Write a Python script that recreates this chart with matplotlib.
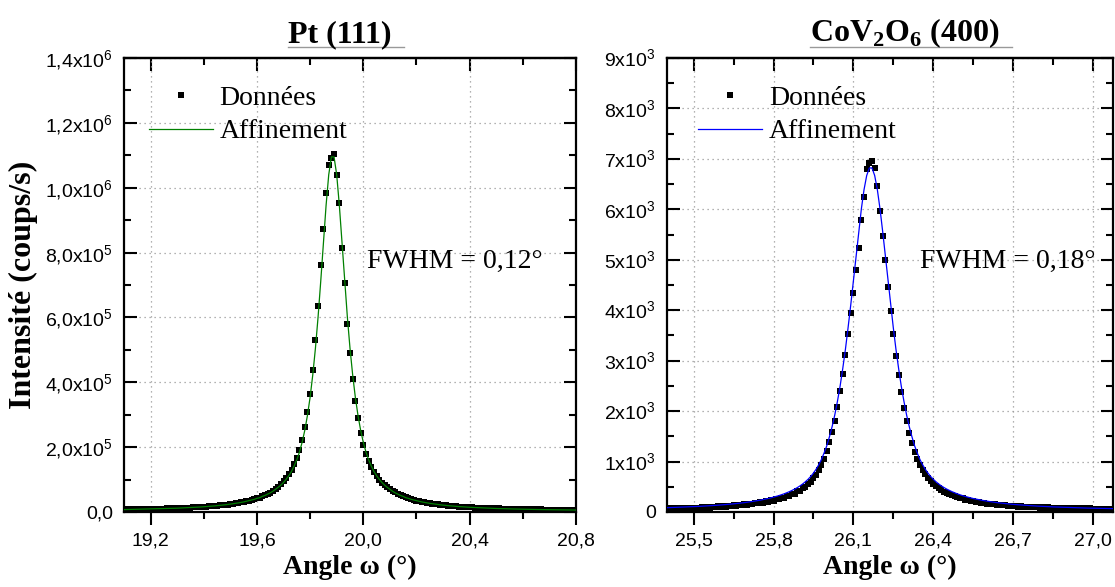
import numpy as np
import matplotlib.pyplot as plt
from matplotlib.ticker import MultipleLocator, FuncFormatter
from matplotlib.lines import Line2D

plt.rcParams['font.family'] = 'Liberation Sans'
plt.rcParams['mathtext.fontset'] = 'custom'
plt.rcParams['mathtext.rm'] = 'Liberation Serif'
plt.rcParams['mathtext.bf'] = 'Liberation Serif:bold'
plt.rcParams['mathtext.sf'] = 'Liberation Sans'

# --- Pt (111) omega scan, 19.10 -> 20.80 deg, step 0.01 (intensities in 1e3 counts/s) ---
pt_angle_start, pt_angle_stop = 19.10, 20.80
pt_counts_k = [
    7.9, 7.2, 8.0, 7.6, 8.3, 8.1, 8.7, 8.2, 9.0, 8.6,
    9.4, 9.0, 9.9, 9.5, 10.3, 10.1, 10.9, 10.6, 11.5, 11.2,
    12.0, 12.3, 12.9, 12.6, 13.6, 13.4, 14.6, 14.2, 15.4, 15.3,
    16.6, 16.4, 17.9, 17.7, 19.3, 19.2, 21.0, 20.9, 22.8, 22.9,
    24.9, 25.0, 27.3, 27.6, 30.3, 30.4, 33.6, 34.1, 37.9, 38.6,
    42.9, 44.1, 49.2, 51.3, 56.8, 59.6, 65.7, 71.8, 78.5, 85.9,
    94.2, 104, 116, 129, 147, 167, 192, 223, 262, 309,
    365, 438, 530, 635, 762, 872, 984, 1069, 1092,
    1104, 1039, 952, 814, 706, 581, 489, 410, 342, 290,
    244, 208, 180, 157, 139, 123, 110, 100, 90, 83,
    76, 70.5, 65.0, 60.2, 55.6, 51.9, 48.3, 45.1, 42.0, 39.6,
    37.0, 35.3, 33.2, 31.4, 29.8, 28.1, 27.0, 25.5, 24.6, 23.2,
    22.4, 21.0, 20.6, 19.4, 19.0, 17.9, 17.6, 16.5, 16.3, 15.4,
    15.2, 14.3, 14.3, 13.4, 13.4, 12.6, 12.7, 11.9, 12.0, 11.2,
    11.3, 10.6, 10.8, 10.1, 10.2, 9.6, 9.8, 9.1, 9.4, 8.7,
    9.0, 8.3, 8.6, 8.0, 8.3, 7.7, 8.0, 7.4, 7.7, 7.1,
    7.4, 6.8, 7.1, 6.6, 6.9, 6.4, 6.7, 6.2, 6.5, 6.0,
    6.3, 5.8,
]
pt_fit_k = [
    7.4, 7.6, 7.7, 7.9, 8.0, 8.2, 8.4, 8.5, 8.7, 8.9,
    9.1, 9.3, 9.6, 9.8, 10.0, 10.3, 10.5, 10.8, 11.1, 11.4,
    11.7, 12.1, 12.4, 12.8, 13.2, 13.6, 14.1, 14.5, 15.0, 15.5,
    16.1, 16.7, 17.3, 18.0, 18.7, 19.5, 20.3, 21.1, 22.1, 23.1,
    24.2, 25.4, 26.6, 28.0, 29.5, 31.0, 33.0, 35.0, 37.0, 39.0,
    42, 44, 48, 51, 55, 59, 64, 70, 76, 83,
    91, 101, 112, 125, 142, 161, 185, 215, 252, 298,
    354, 423, 505, 602, 712, 830, 945, 1040, 1095,
    1095, 1040, 945, 830, 712, 602, 505, 423, 354, 298,
    252, 215, 185, 161, 142, 125, 112, 101, 91, 83,
    76, 70, 64, 59, 55, 51, 48, 44, 42, 39,
    37, 35, 33, 31, 29.5, 28.0, 26.6, 25.4, 24.2, 23.1,
    22.1, 21.1, 20.3, 19.5, 18.7, 18.0, 17.3, 16.7, 16.1, 15.5,
    15.0, 14.5, 14.1, 13.6, 13.2, 12.8, 12.4, 12.1, 11.7, 11.4,
    11.1, 10.8, 10.5, 10.3, 10.0, 9.8, 9.6, 9.3, 9.1, 8.9,
    8.7, 8.5, 8.4, 8.2, 8.0, 7.9, 7.7, 7.6, 7.4, 7.3,
    7.2, 7.0, 6.9, 6.8, 6.7, 6.6, 6.5, 6.4, 6.3, 6.2,
    6.1, 6.0,
]

# --- CoV2O6 (400) omega scan, 25.40 -> 27.08 deg, step 0.01 (counts/s) ---
cov_angle_start, cov_angle_stop = 25.40, 27.08
cov_counts = [
    60, 72, 58, 75, 63, 78, 66, 81, 70, 85,
    74, 88, 78, 93, 83, 98, 88, 104, 93, 110,
    99, 117, 106, 124, 114, 133, 123, 142, 133, 152,
    144, 164, 157, 177, 171, 192, 187, 210, 205, 231,
    226, 254, 251, 283, 281, 318, 317, 360, 361, 410,
    415, 472, 488, 556, 590, 680, 738, 842, 935, 1060,
    1200, 1380, 1580, 1810, 2080, 2390, 2740, 3110, 3530, 3950,
    4340, 4790, 5230, 5790, 6240, 6790, 6910,
    6960, 6810, 6470, 5970, 5480, 4990, 4460, 3990, 3520, 3100,
    2720, 2380, 2070, 1800, 1570, 1370, 1190, 1060, 935, 830,
    752, 670, 618, 556, 515, 468, 440, 400, 382, 350,
    338, 310, 301, 276, 270, 247, 243, 222, 219, 201,
    199, 183, 182, 167, 167, 153, 154, 141, 143, 131,
    133, 122, 125, 114, 118, 108, 112, 102, 106, 97,
    101, 92, 96, 88, 92, 84, 89, 80, 86, 77,
    83, 74, 80, 72, 78, 70, 76, 68, 74, 66,
    72, 64, 70, 63, 68, 62, 67, 61, 66, 60,
    65, 59,
]
cov_fit = [
    85, 87, 89, 91, 92, 94, 97, 99, 101, 103,
    106, 108, 111, 114, 117, 120, 123, 127, 130, 134,
    138, 142, 147, 151, 156, 161, 167, 173, 179, 185,
    192, 200, 208, 216, 225, 234, 245, 256, 267, 280,
    294, 308, 324, 341, 360, 381, 403, 428, 455, 485,
    519, 557, 600, 649, 705, 771, 847, 937, 1040, 1170,
    1310, 1490, 1690, 1920, 2190, 2490, 2840, 3220, 3650, 4100,
    4580, 5080, 5560, 6010, 6390, 6670, 6820,
    6820, 6670, 6390, 6010, 5560, 5080, 4580, 4100, 3650, 3220,
    2840, 2490, 2190, 1920, 1690, 1490, 1310, 1170, 1040, 937,
    847, 771, 705, 649, 600, 557, 519, 485, 455, 428,
    403, 381, 360, 341, 324, 308, 294, 280, 267, 256,
    245, 234, 225, 216, 208, 200, 192, 185, 179, 173,
    167, 161, 156, 151, 147, 142, 138, 134, 130, 127,
    123, 120, 117, 114, 111, 108, 106, 103, 101, 99,
    97, 94, 92, 91, 89, 87, 85, 83, 82, 80,
    79, 77, 76, 75, 73, 72, 71, 70, 69, 68,
    67, 66,
]

pt_angle = np.linspace(pt_angle_start, pt_angle_stop, len(pt_counts_k))
cov_angle = np.linspace(cov_angle_start, cov_angle_stop, len(cov_counts))
pt_counts = np.array(pt_counts_k) * 1e3
pt_fit = np.array(pt_fit_k) * 1e3

serif = 'Liberation Serif'


def comma(v, pos):
    return f'{v:.1f}'.replace('.', ',')


def pt_ylab(v, pos):
    if v < 1:
        return '0,0'
    e = int(np.floor(np.log10(v) + 1e-9))
    return f'{v / 10**e:.1f}'.replace('.', ',') + r'x10$^{\mathsf{' + str(e) + '}}$'


def cov_ylab(v, pos):
    if v < 1:
        return '0'
    return f'{v / 1e3:.0f}' + r'x10$^{\mathsf{3}}$'


def style(ax, xmaj, ymaj, xfmt, yfmt):
    ax.xaxis.set_major_locator(MultipleLocator(xmaj))
    ax.xaxis.set_minor_locator(MultipleLocator(xmaj / 2))
    ax.yaxis.set_major_locator(MultipleLocator(ymaj))
    ax.yaxis.set_minor_locator(MultipleLocator(ymaj / 2))
    ax.xaxis.set_major_formatter(FuncFormatter(xfmt))
    ax.yaxis.set_major_formatter(FuncFormatter(yfmt))
    ax.tick_params(axis='x', which='both', direction='out', width=1.5, labelsize=14, pad=6)
    ax.tick_params(axis='y', which='both', direction='in', right=True, width=1.5,
                   labelsize=14, pad=8)
    ax.tick_params(which='major', length=9)
    ax.tick_params(which='minor', length=5)
    top = ax.secondary_xaxis('top')
    top.xaxis.set_major_locator(MultipleLocator(xmaj))
    top.xaxis.set_minor_locator(MultipleLocator(xmaj / 2))
    top.tick_params(which='both', direction='in', width=1.5, labeltop=False)
    top.tick_params(which='major', length=9)
    top.tick_params(which='minor', length=5)
    top.spines['top'].set_linewidth(1.6)
    for s in ax.spines.values():
        s.set_linewidth(1.6)
    ax.grid(True, which='major', linestyle=(0, (1, 3)), color='#999999', linewidth=0.9)
    ax.set_axisbelow(True)
    ax.set_xlabel('Angle ω (°)', fontfamily=serif, fontweight='bold', fontsize=20)
    ax.xaxis.set_label_coords(0.5, -0.095)
    ax.xaxis.label.set_va('top')


fig = plt.figure(figsize=(11.15, 5.87), dpi=100)
ax1 = fig.add_axes([0.1112, 0.1278, 0.4054, 0.7734])
ax2 = fig.add_axes([0.5982, 0.1278, 0.4, 0.7734])

leg_kw = dict(loc='upper left', frameon=False, prop={'family': serif, 'size': 20},
              handlelength=2.3, handletextpad=0.25, labelspacing=0.3,
              borderpad=0, borderaxespad=0, numpoints=1)

# Pt (111)
ax1.plot(pt_angle, pt_counts, 's', color='black', ms=4.3, mew=0, label='Données', zorder=3)
ax1.plot(pt_angle, pt_fit, '-', color='green', lw=0.9, label='Affinement', zorder=4)
ax1.set_xlim(19.1, 20.8)
ax1.set_ylim(0, 1.4e6)
style(ax1, 0.4, 2e5, comma, pt_ylab)
ax1.set_ylabel('Intensité (coups/s)', fontfamily=serif, fontweight='bold', fontsize=23)
ax1.yaxis.set_label_coords(-0.19, 0.5)
ax1.text(20.0135, 0.752e6, 'FWHM = 0,12°', fontfamily=serif, fontsize=20, va='baseline')
ax1.legend(bbox_to_anchor=(0.055, 0.94), **leg_kw)

# CoV2O6 (400)
ax2.plot(cov_angle, cov_counts, 's', color='black', ms=4.3, mew=0, label='Données', zorder=3)
ax2.plot(cov_angle, cov_fit, '-', color='blue', lw=0.9, label='Affinement', zorder=4)
ax2.set_xlim(25.4, 27.075)
ax2.set_ylim(0, 9000)
style(ax2, 0.3, 1000, comma, cov_ylab)
ax2.text(26.349, 4840, 'FWHM = 0,18°', fontfamily=serif, fontsize=20, va='baseline')
ax2.legend(bbox_to_anchor=(0.07, 0.94), **leg_kw)

# titles with grey underline
t1 = fig.text(0.305, 0.928, 'Pt (111)', ha='center', va='baseline',
              fontfamily=serif, fontweight='bold', fontsize=23)
t2 = fig.text(0.8117, 0.93, r'CoV$_\mathbf{2}$O$_\mathbf{6}$ (400)', ha='center', va='baseline',
              fontfamily=serif, fontweight='bold', fontsize=23)
fig.canvas.draw()
renderer = fig.canvas.get_renderer()
W = fig.bbox.width
for t in (t1, t2):
    bb = t.get_window_extent(renderer)
    fig.add_artist(Line2D([bb.x0 / W, (bb.x1 + 12) / W], [0.92, 0.92],
                          transform=fig.transFigure, color='#999999', lw=1))

plt.savefig('out.png', dpi=100)
